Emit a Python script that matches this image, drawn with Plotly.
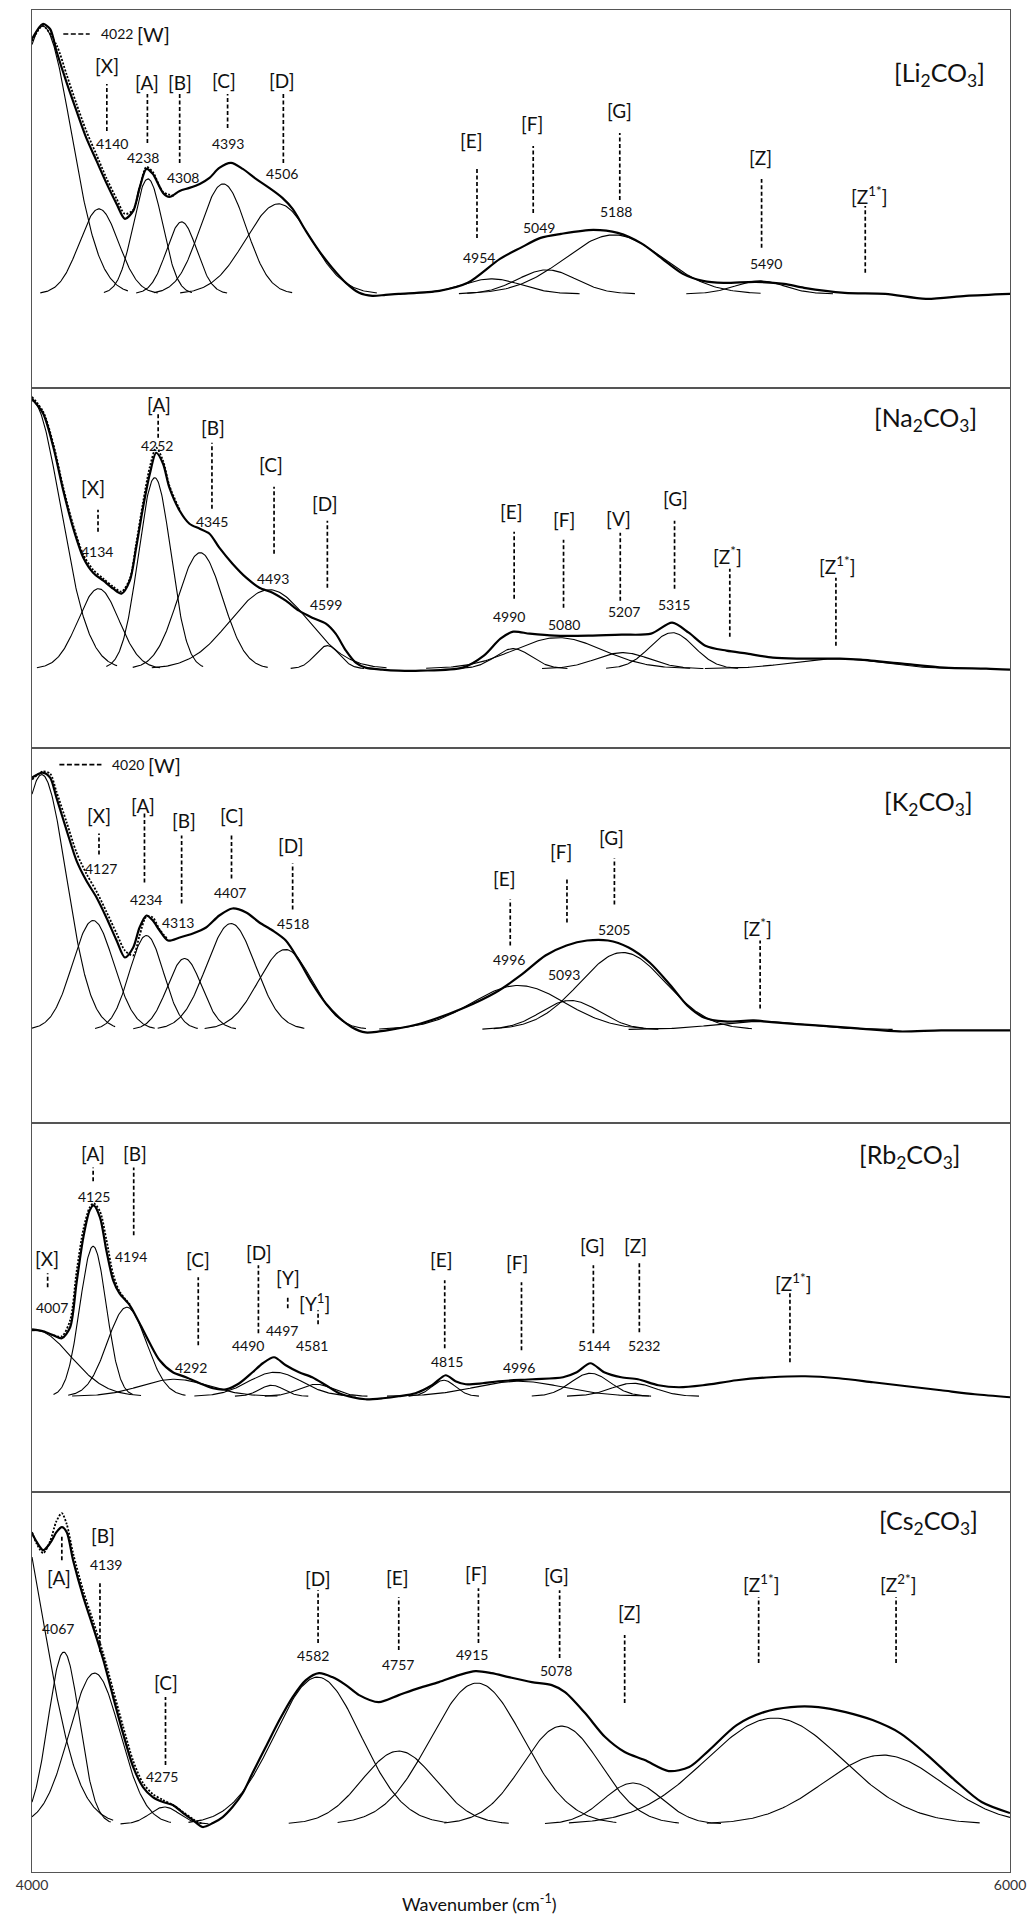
import numpy as np
import plotly.graph_objects as go

X_MIN, X_MAX = 4000, 6000

# ================= DATA (arbitrary absorbance units) =================
# ---- Li2CO3 ----
LI_WN = [4000, 4022, 4037, 4050, 4071, 4091, 4111, 4132, 4152, 4173, 4190, 4207, 4220, 4234, 4247, 4268,
         4281, 4302, 4322, 4343, 4363, 4383, 4407, 4431, 4458, 4485, 4512, 4533, 4560, 4587, 4614, 4642,
         4669, 4696, 4723, 4750, 4833, 4891, 4957, 4999, 5040, 5082, 5148, 5198, 5248, 5289, 5331, 5372,
         5414, 5480, 5538, 5579, 5662, 5745, 5828, 5910, 6000]
LI_ABS = [255, 270, 265, 243, 211, 183, 156, 133, 111, 90, 75, 83, 106, 125, 120, 101,
          97, 103, 106, 110, 116, 126, 131, 125, 115, 106, 96, 85, 63, 43, 26, 11,
          1, -2, -1, 0, 3, 11, 35, 46, 56, 60, 64, 61, 50, 35, 20, 13,
          11, 12, 10, 6, 1, 0, -5, -2, 0]
LI_DOT_WN = [4000, 4022, 4050, 4071, 4091, 4111, 4132, 4152, 4173, 4190, 4207, 4220, 4234, 4247, 4268, 4290]
LI_DOT_ABS = [253, 268, 249, 219, 190, 163, 139, 116, 95, 80, 84, 106, 127, 122, 102, 98]
LI_BAND_CENTER = [4022, 4137, 4237, 4306, 4391, 4504, 4940, 5053, 5190, 5488]
LI_BAND_HEIGHT = [268, 85, 115, 72, 110, 90, 15, 24, 59, 13]
LI_BAND_WIDTH = [58, 40, 30, 31, 47, 67, 60, 60, 100, 50]
LI_PEAK_NAMES = ["X", "A", "B", "C", "D", "E", "F", "G", "Z", "Z<sup>1*</sup>"]
LI_PEAK_WN = [4140, 4238, 4308, 4393, 4506, 4954, 5049, 5188, 5490, None]
LI_W_WN = 4022

# ---- Na2CO3 ----
NA_WN = [4000, 4023, 4044, 4064, 4084, 4105, 4125, 4146, 4166, 4183, 4200, 4213, 4227, 4241, 4254, 4268,
         4281, 4302, 4322, 4343, 4363, 4383, 4410, 4438, 4465, 4492, 4519, 4546, 4573, 4601, 4621, 4642,
         4662, 4682, 4716, 4750, 4795, 4881, 4924, 4958, 4984, 5018, 5069, 5138, 5206, 5266, 5309, 5343,
         5377, 5420, 5463, 5515, 5566, 5652, 5695, 5780, 5866, 5951, 6000]
NA_ABS = [270, 255, 221, 178, 141, 111, 96, 88, 80, 75, 88, 121, 161, 195, 216, 205,
          181, 158, 145, 140, 135, 121, 105, 91, 81, 76, 68, 58, 51, 45, 35, 18,
          6, 1, -1, -2, -2, 1, 13, 30, 37, 35, 33, 33, 34, 35, 46, 36,
          23, 18, 15, 11, 10, 10, 9, 5, 1, 0, -1]
NA_DOT_WN = [4000, 4023, 4044, 4064, 4084, 4105, 4125, 4146, 4166, 4183, 4200, 4213, 4227, 4241, 4254, 4268, 4281, 4302]
NA_DOT_ABS = [272, 257, 224, 181, 144, 114, 99, 90, 82, 77, 90, 125, 166, 202, 221, 208, 183, 159]
NA_BAND_CENTER = [4000, 4136, 4251, 4344, 4485, 4604, 4984, 5076, 5208, 5309, 5646]
NA_BAND_HEIGHT = [268, 80, 191, 116, 79, 23, 20, 31, 16, 36, 10]
NA_BAND_WIDTH = [58, 42, 33, 46, 80, 25, 37, 90, 55, 45, 90]
NA_PEAK_NAMES = ["X", "A", "B", "C", "D", "E", "F", "V", "G", "Z<sup>*</sup>", "Z<sup>1*</sup>"]
NA_PEAK_WN = [4134, 4252, 4345, 4493, 4599, 4990, 5080, 5207, 5315, None, None]

# ---- K2CO3 ----
K_WN = [4000, 4022, 4037, 4050, 4071, 4091, 4111, 4132, 4152, 4173, 4190, 4207, 4220, 4234, 4247, 4261,
        4278, 4302, 4329, 4356, 4383, 4410, 4438, 4465, 4492, 4519, 4546, 4573, 4601, 4628, 4655, 4682,
        4710, 4737, 4795, 4880, 4948, 4999, 5050, 5093, 5135, 5178, 5220, 5263, 5306, 5340, 5374, 5416,
        5476, 5519, 5604, 5689, 5774, 5859, 6000]
K_ABS = [252, 257, 252, 232, 199, 169, 149, 132, 112, 89, 72, 82, 102, 114, 109, 99,
         89, 92, 96, 102, 114, 121, 117, 107, 99, 89, 69, 46, 26, 12, 2, -3,
         -2, 0, 6, 21, 37, 54, 74, 84, 89, 89, 82, 67, 44, 24, 12, 8,
         9, 7, 4, 1, -2, -1, -1]
K_DOT_WN = [4000, 4022, 4037, 4050, 4071, 4091, 4111, 4132, 4152, 4173, 4190, 4207, 4220, 4234, 4247, 4261, 4278]
K_DOT_ABS = [250, 258, 256, 238, 207, 177, 156, 138, 118, 96, 79, 74, 94, 113, 112, 100, 90]
K_BAND_CENTER = [4020, 4125, 4234, 4312, 4407, 4518, 4995, 5101, 5208, 5490]
K_BAND_HEIGHT = [255, 109, 94, 71, 106, 80, 44, 29, 77, 8]
K_BAND_WIDTH = [50, 42, 35, 35, 50, 55, 95, 60, 88, 90]
K_PEAK_NAMES = ["X", "A", "B", "C", "D", "E", "F", "G", "Z<sup>*</sup>"]
K_PEAK_WN = [4127, 4234, 4313, 4407, 4518, 4996, 5093, 5205, None]
K_W_WN = 4020

# ---- Rb2CO3 ----
RB_WN = [4000, 4023, 4044, 4061, 4078, 4091, 4105, 4118, 4126, 4139, 4152, 4166, 4179, 4200, 4220, 4241,
         4261, 4288, 4315, 4343, 4370, 4397, 4424, 4451, 4472, 4495, 4519, 4546, 4573, 4601, 4628, 4655,
         4682, 4717, 4750, 4784, 4818, 4846, 4866, 4887, 4921, 4954, 5024, 5086, 5114, 5142, 5170, 5205,
         5239, 5281, 5323, 5372, 5441, 5511, 5581, 5650, 5720, 5789, 5859, 5928, 6000]
RB_ABS = [67, 65, 61, 58, 69, 113, 159, 186, 191, 179, 146, 116, 103, 91, 73, 53,
          36, 24, 19, 13, 8, 7, 13, 24, 33, 39, 31, 24, 19, 11, 3, -1,
          -3, -2, 0, 3, 11, 21, 15, 12, 13, 15, 17, 19, 24, 33, 24, 19,
          17, 11, 9, 11, 16, 19, 20, 18, 14, 10, 6, 2, -1]
RB_DOT_WN = [4044, 4061, 4078, 4091, 4105, 4118, 4126, 4139, 4152, 4166, 4179, 4200]
RB_DOT_ABS = [61, 60, 76, 124, 167, 189, 193, 185, 157, 122, 105, 92]
RB_BAND_CENTER = [4007, 4125, 4194, 4292, 4490, 4497, 4581, 4842, 4996, 5142, 5229]
RB_BAND_HEIGHT = [66, 150, 89, 17, 11, 24, 12, 16, 15, 23, 13]
RB_BAND_WIDTH = [72, 27, 40, 70, 25, 55, 35, 24, 90, 40, 45]
RB_PEAK_NAMES = ["X", "A", "B", "C", "D", "Y", "Y<sup>1</sup>", "E", "F", "G", "Z", "Z<sup>1*</sup>"]
RB_PEAK_WN = [4007, 4125, 4194, 4292, 4490, 4497, 4581, 4815, 4996, 5144, 5232, None]

# ---- Cs2CO3 ----
CS_WN = [4000, 4010, 4023, 4037, 4050, 4061, 4071, 4084, 4105, 4125, 4146, 4166, 4186, 4207, 4227, 4247,
         4268, 4288, 4309, 4329, 4349, 4370, 4390, 4410, 4431, 4451, 4478, 4506, 4533, 4560, 4587, 4614,
         4642, 4669, 4709, 4750, 4791, 4832, 4873, 4907, 4940, 4975, 5022, 5063, 5090, 5131, 5172, 5212,
         5253, 5302, 5344, 5385, 5441, 5497, 5552, 5608, 5664, 5719, 5775, 5831, 5887, 5942, 6000]
CS_ABS = [291, 282, 274, 281, 292, 297, 292, 264, 227, 197, 164, 127, 91, 57, 37, 27,
          22, 19, 11, 4, -3, 1, 7, 17, 31, 51, 77, 104, 127, 144, 151, 147,
          139, 129, 122, 129, 136, 142, 149, 153, 151, 147, 142, 139, 132, 111, 87, 72,
          64, 53, 57, 74, 99, 112, 117, 117, 112, 104, 91, 69, 44, 22, 11]
CS_DOT_WN = [4000, 4010, 4023, 4037, 4050, 4061, 4071, 4084, 4105, 4125, 4146, 4166, 4186, 4207, 4227, 4247,
             4268, 4288, 4309, 4329, 4349]
CS_DOT_ABS = [292, 280, 271, 283, 303, 311, 300, 271, 233, 203, 170, 134, 98, 63, 41, 30,
              24, 19, 12, 5, 0]
CS_BAND_CENTER = [3950, 4065, 4128, 4271, 4584, 4750, 4910, 5083, 5229, 5518, 5740]
CS_BAND_HEIGHT = [340, 172, 151, 17, 147, 73, 141, 98, 41, 106, 69]
CS_BAND_WIDTH = [72, 32, 52, 30, 88, 75, 95, 80, 60, 140, 120]
CS_PEAK_NAMES = ["A", "B", "C", "D", "E", "F", "G", "Z", "Z<sup>1*</sup>", "Z<sup>2*</sup>"]
CS_PEAK_WN = [4067, 4139, 4275, 4582, 4757, 4915, 5078, None, None, None]

# ================= LAYOUT (label placement, in axis units of each panel) =================
# (name_x, name_y, line_x, line_top, line_bottom, number_x, number_y)
LI_POS = [(4153, 228, 4153, 210, 163, 4163, 150), (4236, 211, 4236, 200, 151, 4226, 136),
          (4302, 211, 4302, 200, 131, 4308, 116), (4393, 213, 4400, 200, 166, 4400, 150),
          (4512, 213, 4514, 200, 131, 4512, 120), (4899, 153, 4910, 125, 56, 4914, 36),
          (5023, 170, 5025, 148, 81, 5036, 66), (5202, 183, 5202, 161, 94, 5194, 82),
          (5489, 136, 5492, 115, 46, 5501, 30), (5712, 98, 5704, 88, 21, None, None)]
NA_POS = [(4125, 181, 4135, 159, 137, 4132, 117), (4259, 264, 4258, 255, 231, 4255, 223),
          (4371, 241, 4368, 226, 160, 4368, 147), (4489, 204, 4495, 182, 115, 4492, 90),
          (4599, 165, 4604, 148, 81, 4602, 64), (4980, 157, 4986, 137, 70, 4975, 52),
          (5087, 149, 5087, 129, 61, 5088, 44), (5199, 150, 5203, 136, 68, 5210, 57),
          (5316, 170, 5314, 148, 80, 5312, 64), (5423, 113, 5427, 100, 32, None, None),
          (5646, 103, 5644, 91, 23, None, None)]
K_POS = [(4137, 214, 4137, 196, 175, 4142, 161), (4227, 224, 4230, 217, 147, 4234, 130),
         (4310, 209, 4306, 194, 126, 4298, 107), (4408, 214, 4408, 196, 151, 4405, 137),
         (4530, 184, 4533, 166, 120, 4533, 106), (4967, 151, 4978, 130, 84, 4975, 70),
         (5082, 178, 5094, 152, 107, 5088, 55), (5186, 192, 5191, 171, 125, 5191, 100),
         (5484, 102, 5489, 89, 21, None, None)]
RB_POS = [(4031, 138, 4032, 123, 109, 4040, 89), (4125, 243, 4125, 229, 215, 4126, 200),
          (4210, 243, 4208, 229, 161, 4203, 140), (4340, 137, 4340, 119, 51, 4326, 29),
          (4465, 144, 4463, 131, 63, 4441, 51), (4523, 119, 4523, 101, 88, 4511, 66),
          (4577, 94, 4585, 86, 72, 4572, 51), (4837, 137, 4844, 116, 48, 4849, 35),
          (4992, 134, 5001, 114, 46, 4996, 29), (5146, 151, 5148, 131, 63, 5149, 51),
          (5234, 151, 5242, 133, 64, 5252, 51), (5556, 114, 5550, 103, 34, None, None)]
CS_POS = [(4056, 247, 4061, 289, 264, 4054, 196), (4145, 289, 4139, 241, 172, 4152, 260),
          (4275, 142, 4273, 127, 59, 4266, 48), (4584, 246, 4585, 234, 181, 4574, 169),
          (4748, 247, 4750, 227, 174, 4749, 160), (4908, 251, 4913, 236, 181, 4900, 170),
          (5072, 249, 5079, 234, 166, 5072, 154), (5221, 212, 5212, 189, 121, None, None),
          (5490, 241, 5486, 227, 161, None, None), (5770, 241, 5767, 227, 161, None, None)]
# W marker rows: (dash_x0, dash_x1, y, number_left_x, name_left_x)
LI_W_POS = (4064, 4118, 260, 4137, 4210)
K_W_POS = (4056, 4142, 265, 4159, 4234)

PANEL_PX = [9, 387, 747, 1123, 1492, 1872]   # panel borders in page pixels
FIG_W, FIG_H = 1035, 1914
M_L, M_R, M_T, M_B = 32, 22, 9, 42

FONT = "Lato"
INK = "#111111"
BORDER = "#555555"
NAME_SIZE = 19
NUM_SIZE = 14

panels = [
    dict(title="[Li<sub>2</sub>CO<sub>3</sub>]", tpos=(5856, 220), yr=(-94, 284),
         wn=LI_WN, ab=LI_ABS, dwn=LI_DOT_WN, dab=LI_DOT_ABS,
         bc=LI_BAND_CENTER, bh=LI_BAND_HEIGHT, bw=LI_BAND_WIDTH,
         names=LI_PEAK_NAMES, nums=LI_PEAK_WN, pos=LI_POS, w=(LI_W_WN, LI_W_POS)),
    dict(title="[Na<sub>2</sub>CO<sub>3</sub>]", tpos=(5827, 250), yr=(-79, 281),
         wn=NA_WN, ab=NA_ABS, dwn=NA_DOT_WN, dab=NA_DOT_ABS,
         bc=NA_BAND_CENTER, bh=NA_BAND_HEIGHT, bw=NA_BAND_WIDTH,
         names=NA_PEAK_NAMES, nums=NA_PEAK_WN, pos=NA_POS, w=None),
    dict(title="[K<sub>2</sub>CO<sub>3</sub>]", tpos=(5833, 227), yr=(-94, 282),
         wn=K_WN, ab=K_ABS, dwn=K_DOT_WN, dab=K_DOT_ABS,
         bc=K_BAND_CENTER, bh=K_BAND_HEIGHT, bw=K_BAND_WIDTH,
         names=K_PEAK_NAMES, nums=K_PEAK_WN, pos=K_POS, w=(K_W_WN, K_W_POS)),
    dict(title="[Rb<sub>2</sub>CO<sub>3</sub>]", tpos=(5795, 240), yr=(-96, 273),
         wn=RB_WN, ab=RB_ABS, dwn=RB_DOT_WN, dab=RB_DOT_ABS,
         bc=RB_BAND_CENTER, bh=RB_BAND_HEIGHT, bw=RB_BAND_WIDTH,
         names=RB_PEAK_NAMES, nums=RB_PEAK_WN, pos=RB_POS, w=None),
    dict(title="[Cs<sub>2</sub>CO<sub>3</sub>]", tpos=(5833, 302), yr=(-48, 332),
         wn=CS_WN, ab=CS_ABS, dwn=CS_DOT_WN, dab=CS_DOT_ABS,
         bc=CS_BAND_CENTER, bh=CS_BAND_HEIGHT, bw=CS_BAND_WIDTH,
         names=CS_PEAK_NAMES, nums=CS_PEAK_WN, pos=CS_POS, w=None),
]


def band_curve(c, h, s):
    lo = max(X_MIN, c - 3 * s)
    hi = min(X_MAX, c + 3 * s)
    x = np.linspace(lo, hi, 160)
    return x, h * np.exp(-((x - c) ** 2) / (2.0 * s * s))


fig = go.Figure()
shapes, annotations = [], []
plot_h = PANEL_PX[-1] - PANEL_PX[0]
n = len(panels)

for i, p in enumerate(panels, start=1):
    xa = "x" if i == 1 else f"x{i}"
    ya = "y" if i == 1 else f"y{i}"
    top_px, bot_px = PANEL_PX[i - 1], PANEL_PX[i]
    dom = [(PANEL_PX[-1] - bot_px) / plot_h, (PANEL_PX[-1] - top_px) / plot_h]

    # Gaussian component bands (thin)
    for c, h, s in zip(p["bc"], p["bh"], p["bw"]):
        bx, by = band_curve(c, h, s)
        fig.add_trace(go.Scatter(x=bx, y=by, mode="lines", xaxis=xa, yaxis=ya,
                                 line=dict(color="#000000", width=1.1), hoverinfo="skip", showlegend=False))
    # measured spectrum (thick)
    fig.add_trace(go.Scatter(x=p["wn"], y=p["ab"], mode="lines", xaxis=xa, yaxis=ya,
                             line=dict(color="#000000", width=2.2, shape="spline", smoothing=0.8),
                             hoverinfo="skip", showlegend=False))
    # second (dotted) trace
    fig.add_trace(go.Scatter(x=p["dwn"], y=p["dab"], mode="lines", xaxis=xa, yaxis=ya,
                             line=dict(color="#000000", width=1.8, dash="2px,1.6px", shape="spline", smoothing=0.8),
                             hoverinfo="skip", showlegend=False))

    # axes
    xkey = "xaxis" if i == 1 else f"xaxis{i}"
    ykey = "yaxis" if i == 1 else f"yaxis{i}"
    bottom = (i == n)
    fig.layout[xkey] = dict(range=[X_MIN, X_MAX], domain=[0, 1], anchor=ya, showline=True, mirror=True,
                            linecolor=BORDER, linewidth=1.3, showgrid=False, zeroline=False, ticks="",
                            showticklabels=bottom, tickvals=[4000, 6000] if bottom else None,
                            tickfont=dict(family=FONT, size=14, color="#333333"), fixedrange=True)
    fig.layout[ykey] = dict(range=list(p["yr"]), domain=dom, anchor=xa, showline=True, mirror=True,
                            linecolor=BORDER, linewidth=1.3, showgrid=False, zeroline=False, ticks="",
                            showticklabels=False, fixedrange=True)

    # panel title
    annotations.append(dict(x=p["tpos"][0], y=p["tpos"][1], xref=xa, yref=ya, text=p["title"],
                            showarrow=False, font=dict(family=FONT, size=25, color=INK),
                            xanchor="center", yanchor="middle"))

    # peak labels
    for name, num, pos in zip(p["names"], p["nums"], p["pos"]):
        nx, ny, lx, lt, lb, mx, my = pos
        annotations.append(dict(x=nx, y=ny, xref=xa, yref=ya, text=f"[{name}]", showarrow=False,
                                font=dict(family=FONT, size=NAME_SIZE, color=INK),
                                xanchor="center", yanchor="middle"))
        shapes.append(dict(type="line", xref=xa, yref=ya, x0=lx, x1=lx, y0=lb, y1=lt,
                           line=dict(color="#000000", width=1.7, dash="4px,2.5px")))
        if num is not None:
            annotations.append(dict(x=mx, y=my, xref=xa, yref=ya, text=str(num), showarrow=False,
                                    font=dict(family=FONT, size=NUM_SIZE, color=INK),
                                    xanchor="center", yanchor="middle"))

    # W marker row
    if p["w"] is not None:
        wval, (dx0, dx1, wy, numx, namex) = p["w"]
        shapes.append(dict(type="line", xref=xa, yref=ya, x0=dx0, x1=dx1, y0=wy, y1=wy,
                           line=dict(color="#000000", width=1.7, dash="5px,2.5px")))
        annotations.append(dict(x=numx, y=wy, xref=xa, yref=ya, text=str(wval), showarrow=False,
                                font=dict(family=FONT, size=NUM_SIZE, color=INK),
                                xanchor="left", yanchor="middle"))
        annotations.append(dict(x=namex, y=wy, xref=xa, yref=ya, text="[W]", showarrow=False,
                                font=dict(family=FONT, size=20, color=INK),
                                xanchor="left", yanchor="middle"))

# x-axis title
annotations.append(dict(x=(481 - M_L) / (FIG_W - M_L - M_R), y=(PANEL_PX[-1] - 1903) / plot_h,
                        xref="paper", yref="paper", text="Wavenumber (cm<sup>-1</sup>)", showarrow=False,
                        font=dict(family=FONT, size=18, color=INK), xanchor="center", yanchor="middle"))

fig.update_layout(width=FIG_W, height=FIG_H, margin=dict(l=M_L, r=M_R, t=M_T, b=M_B),
                  paper_bgcolor="white", plot_bgcolor="white", showlegend=False,
                  shapes=shapes, annotations=annotations, font=dict(family=FONT, color=INK))

fig.write_html("out.html")
